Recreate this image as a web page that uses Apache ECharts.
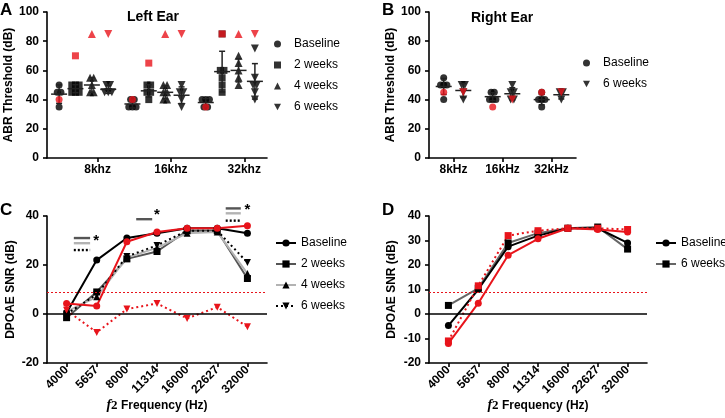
<!DOCTYPE html>
<html>
<head>
<meta charset="utf-8">
<script src="https://cdn.jsdelivr.net/npm/echarts@6/dist/echarts.min.js"></script>
<style>
  html, body { margin: 0; padding: 0; background: #fff; }
  #chart { width: 725px; height: 418px; }
</style>
</head>
<body>
<div id="chart"></div>
<script>
// ABR thresholds, one list per frequency; the red animal is kept apart
var abrFreqs = ['8khz', '16khz', '32khz'];
var leftBaseline = [[50, 45, 45, 35], [40, 40, 35, 35, 35], [40, 40, 40, 35, 35]];
var leftWeek2 = [[50, 50, 50, 45, 45, 45], [50, 50, 45, 45, 40], [85, 60, 60, 55, 50, 45]];
var leftWeek4 = [[55, 55, 50, 45, 45], [50, 50, 45, 45, 40, 40], [70, 65, 60, 55, 50]];
var leftWeek6 = [[50, 50, 45, 45, 45], [50, 45, 45, 40, 35], [75, 55, 50, 50, 45, 40]];
var leftRedBaseline = [40, 40, 35];
var leftRedWeek2 = [70, 65, 85];
var leftRedWeek4 = [85, 85, 85];
var leftRedWeek6 = [85, 85, 85];

var rightFreqs = ['8kHz', '16kHz', '32kHz'];
var rightBaseline = [[55, 50, 50, 50, 40], [45, 45, 40, 40, 40], [45, 40, 40, 40, 35]];
var rightWeek6 = [[50, 50, 45, 40], [50, 45, 45, 40, 40], [45, 45, 40]];
var rightRedBaseline = [45, 35, 45];
var rightRedWeek6 = [45, 40, 45];

// DPOAE SNR per f2 frequency
var f2Labels = ['4000', '5657', '8000', '11314', '16000', '22627', '32000'];
var leftSnrBaseline = [0.5, 22, 31, 33, 35, 35, 33];
var leftSnrWeek2 = [-1.5, 9, 22.5, 25.5, 34, 34, 14.5];
var leftSnrWeek4 = [1, 7, 23, 27, 33, 33.5, 16.5];
var leftSnrWeek6 = [0, 8, 23.5, 28, 34, 34, 21];
var leftSnrRed = [4.3, 3.3, 29.5, 33.5, 35, 35, 36];
var leftSnrRedWeek6 = [1.5, -7.5, 2, 4.3, -1.8, 2.8, -5.2];
var rightSnrBaseline = [-4.7, 10, 27.5, 32, 35, 35, 29];
var rightSnrWeek6 = [3.5, 10.5, 29, 33, 35, 35.5, 26.5];
var rightSnrRed = [-12, 4.4, 24, 30.7, 35, 34.5, 33.5];
var rightSnrRedWeek6 = [-11, 11.5, 32, 34, 35, 35, 34.5];
var noiseFloor = 9;

// significance marks in C: [from, to, y, style] (0 = 2 wk, 1 = 4 wk, 2 = 6 wk)
var sigBars = [
  [0.24, 0.78, 31, 0], [0.24, 0.78, 28.9, 1], [0.24, 0.78, 26.1, 2],
  [2.31, 2.84, 38.7, 0],
  [5.28, 5.78, 43.1, 0], [5.28, 5.78, 41.1, 1], [5.28, 5.78, 38.1, 2]
];
var sigStars = [[0.98, 28.4], [3.0, 38.8], [6.0, 40.8]];

var FONT = "'Liberation Sans', Arial, sans-serif";
var RED = '#e8141b';
var DOWN = 'path://M0,0L10,0L5,9Z';

function axisStyle(extra) {
  var base = {
    axisLine: { onZero: false, lineStyle: { color: '#000', width: 1.6 } },
    axisTick: { length: 4, lineStyle: { color: '#000', width: 1.6 } },
    axisLabel: { color: '#000', fontWeight: 'bold', fontSize: 12, fontFamily: FONT },
    splitLine: { show: false },
    nameTextStyle: { color: '#000', fontWeight: 'bold', fontSize: 12, fontFamily: FONT }
  };
  for (var k in extra) {
    if (base[k] && typeof extra[k] === 'object' && !Array.isArray(extra[k])) {
      base[k] = Object.assign({}, base[k], extra[k]);
    } else {
      base[k] = extra[k];
    }
  }
  return base;
}

// spread equal values sideways like a beeswarm
function swarm(values, center, step) {
  var counts = {}, seen = {};
  values.forEach(function (v) { counts[v] = (counts[v] || 0) + 1; });
  return values.map(function (v) {
    var k = seen[v] || 0;
    seen[v] = k + 1;
    return [center + (k - (counts[v] - 1) / 2) * step, v];
  });
}

function meanSd(values) {
  var m = values.reduce(function (a, b) { return a + b; }, 0) / values.length;
  var ss = values.reduce(function (a, b) { return a + (b - m) * (b - m); }, 0);
  return [m, Math.sqrt(ss / (values.length - 1))];
}

function meanSdItem(params, api) {
  var x = api.value(0), m = api.value(1), sd = api.value(2);
  var c = api.coord([x, m]), hi = api.coord([x, m + sd]), lo = api.coord([x, m - sd]);
  var st = { stroke: '#222', lineWidth: 1.5 };
  return {
    type: 'group',
    children: [
      { type: 'line', shape: { x1: c[0] - 8, y1: c[1], x2: c[0] + 8, y2: c[1] }, style: st },
      { type: 'line', shape: { x1: c[0], y1: hi[1], x2: c[0], y2: lo[1] }, style: st },
      { type: 'line', shape: { x1: c[0] - 3, y1: hi[1], x2: c[0] + 3, y2: hi[1] }, style: st },
      { type: 'line', shape: { x1: c[0] - 3, y1: lo[1], x2: c[0] + 3, y2: lo[1] }, style: st }
    ]
  };
}

var series = [];

function abrPanel(prefix, axisIdx, groups, reds, names, symbols, sizes, offsets, step) {
  var stats = [];
  groups.forEach(function (g, t) {
    var pts = [], redPts = [];
    g.forEach(function (vals, f) {
      var cx = f + 0.5 + offsets[t];
      pts = pts.concat(swarm(vals, cx, step));
      redPts.push([cx, reds[t][f]]);
      var ms = meanSd(vals);
      stats.push([cx, ms[0], ms[1]]);
    });
    series.push({
      name: prefix + '|' + names[t], type: 'scatter', xAxisIndex: axisIdx, yAxisIndex: axisIdx,
      symbol: symbols[t], symbolSize: sizes[t], itemStyle: { color: '#000' }, data: pts, z: 2
    });
    series.push({
      name: prefix + '|red' + t, type: 'scatter', xAxisIndex: axisIdx, yAxisIndex: axisIdx,
      symbol: symbols[t], symbolSize: sizes[t], itemStyle: { color: RED }, data: redPts, z: 4
    });
  });
  series.push({
    type: 'custom', xAxisIndex: axisIdx, yAxisIndex: axisIdx, renderItem: meanSdItem,
    encode: { x: 0, y: 1 }, data: stats, z: 3, silent: true
  });
}

abrPanel('A', 0, [leftBaseline, leftWeek2, leftWeek4, leftWeek6],
  [leftRedBaseline, leftRedWeek2, leftRedWeek4, leftRedWeek6],
  ['Baseline', '2 weeks', '4 weeks', '6 weeks'],
  ['circle', 'rect', 'triangle', DOWN], [7, 7, 8, 8],
  [-0.335, -0.112, 0.112, 0.335], 0.05);

abrPanel('B', 1, [rightBaseline, rightWeek6], [rightRedBaseline, rightRedWeek6],
  ['Baseline', '6 weeks'], ['circle', DOWN], [7, 8], [-0.2, 0.2], 0.065);

function idx(arr) { return arr.map(function (v, i) { return [i, v]; }); }

function snrLine(name, axisIdx, values, lineColor, dotColor, symbol, size, dotted, extra) {
  var s = {
    name: name, type: 'line', xAxisIndex: axisIdx, yAxisIndex: axisIdx,
    data: idx(values), symbol: symbol, symbolSize: size,
    lineStyle: { color: lineColor, width: 2, type: dotted ? [2, 3] : 'solid' },
    itemStyle: { color: dotColor }
  };
  return Object.assign(s, extra || {});
}

var refLines = {
  silent: true, symbol: ['none', 'none'], label: { show: false }, animation: false,
  data: [
    { yAxis: 0, lineStyle: { color: '#000', width: 1.5, type: 'solid' } },
    { yAxis: noiseFloor, lineStyle: { color: RED, width: 1, type: [2, 2] } }
  ]
};

series.push(snrLine('C|2 weeks', 2, leftSnrWeek2, '#555', '#000', 'rect', 7, false, { markLine: refLines }));
series.push(snrLine('C|4 weeks', 2, leftSnrWeek4, '#b3b3b3', '#000', 'triangle', 7, false));
series.push(snrLine('C|6 weeks', 2, leftSnrWeek6, '#000', '#000', DOWN, 7, true));
series.push(snrLine('C|Baseline', 2, leftSnrBaseline, '#000', '#000', 'circle', 7, false));
series.push(snrLine('C|red6', 2, leftSnrRedWeek6, RED, RED, DOWN, 7, true));
series.push(snrLine('C|red', 2, leftSnrRed, RED, RED, 'circle', 7, false));

series.push(snrLine('D|6 weeks', 3, rightSnrWeek6, '#666', '#000', 'rect', 7, false, { markLine: refLines }));
series.push(snrLine('D|Baseline', 3, rightSnrBaseline, '#000', '#000', 'circle', 7, false));
series.push(snrLine('D|red6', 3, rightSnrRedWeek6, RED, RED, 'rect', 7, true));
series.push(snrLine('D|red', 3, rightSnrRed, RED, RED, 'circle', 7, false));

var sigStyles = [
  { color: '#555', dash: null },
  { color: '#b3b3b3', dash: null },
  { color: '#000', dash: [2, 2] }
];
series.push({
  type: 'custom', xAxisIndex: 2, yAxisIndex: 2, silent: true, clip: false, z: 5,
  encode: { x: 0, y: 2 }, data: sigBars,
  renderItem: function (params, api) {
    var a = api.coord([api.value(0), api.value(2)]);
    var b = api.coord([api.value(1), api.value(2)]);
    var s = sigStyles[api.value(3)];
    return {
      type: 'line', shape: { x1: a[0], y1: a[1], x2: b[0], y2: b[1] },
      style: { stroke: s.color, lineWidth: 2.4, lineDash: s.dash }
    };
  }
});
series.push({
  type: 'custom', xAxisIndex: 2, yAxisIndex: 2, silent: true, clip: false, z: 5,
  encode: { x: 0, y: 1 }, data: sigStars,
  renderItem: function (params, api) {
    var p = api.coord([api.value(0), api.value(1)]);
    return {
      type: 'text', x: p[0], y: p[1] - 4,
      style: { text: '*', fill: '#000', font: 'bold 15px ' + FONT, align: 'center', verticalAlign: 'middle' }
    };
  }
});

function legendFor(names, left, top, itemW, itemH, padLeft) {
  return {
    data: names, orient: 'vertical', left: left, top: top, itemWidth: itemW, itemHeight: itemH,
    itemGap: 7, selectedMode: false, padding: 0,
    formatter: function (n) { return n.split('|')[1]; },
    textStyle: { color: '#000', fontSize: 12, fontFamily: FONT, lineHeight: 14, padding: [0, 0, 0, padLeft] }
  };
}

var freqAxisX = function (grid) {
  return axisStyle({
    gridIndex: grid, type: 'value', min: -0.65, max: 6.65,
    axisTick: { customValues: [0, 1, 2, 3, 4, 5, 6] },
    axisLabel: { customValues: [0, 1, 2, 3, 4, 5, 6], rotate: 45, margin: 5,
      formatter: function (v) { return f2Labels[v]; } },
    name: '{f|f}{n|2} {b|Frequency (Hz)}', nameLocation: 'middle', nameGap: 30,
    nameTextStyle: {
      rich: {
        f: { fontFamily: "'Liberation Serif', serif", fontStyle: 'italic', fontSize: 14, color: '#000' },
        n: { fontFamily: "'Liberation Serif', serif", fontSize: 13, color: '#000' },
        b: { fontFamily: FONT, fontWeight: 'bold', fontSize: 12, color: '#000' }
      }
    }
  });
};

// panel A labels sit a little right of each group's middle
var leftLabelPos = [0.69, 1.69, 2.69];

var option = {
  animation: false,
  backgroundColor: '#fff',
  grid: [
    { left: 47, top: 12, width: 220, height: 146 },
    { left: 429, top: 12, width: 147, height: 146 },
    { left: 47, top: 216, width: 220, height: 147 },
    { left: 429, top: 216, width: 218, height: 147 }
  ],
  xAxis: [
    axisStyle({ gridIndex: 0, type: 'value', min: 0, max: 3,
      axisTick: { customValues: leftLabelPos },
      axisLabel: { customValues: leftLabelPos, margin: 6,
        formatter: function (v) { return abrFreqs[Math.floor(v)]; } } }),
    axisStyle({ gridIndex: 1, type: 'value', min: 0, max: 3,
      axisTick: { customValues: [0.5, 1.5, 2.5] },
      axisLabel: { customValues: [0.5, 1.5, 2.5], margin: 6,
        formatter: function (v) { return rightFreqs[Math.floor(v)]; } } }),
    freqAxisX(2),
    freqAxisX(3)
  ],
  yAxis: [
    axisStyle({ gridIndex: 0, type: 'value', min: 0, max: 100, interval: 20,
      name: 'ABR Threshold (dB)', nameLocation: 'middle', nameGap: 31 }),
    axisStyle({ gridIndex: 1, type: 'value', min: 0, max: 100, interval: 20,
      name: 'ABR Threshold (dB)', nameLocation: 'middle', nameGap: 31 }),
    axisStyle({ gridIndex: 2, type: 'value', min: -20, max: 40, interval: 20,
      name: 'DPOAE SNR (dB)', nameLocation: 'middle', nameGap: 30 }),
    axisStyle({ gridIndex: 3, type: 'value', min: -20, max: 40, interval: 10,
      name: 'DPOAE SNR (dB)', nameLocation: 'middle', nameGap: 31 })
  ],
  legend: [
    legendFor(['A|Baseline', 'A|2 weeks', 'A|4 weeks', 'A|6 weeks'], 274, 37, 7, 7, 8),
    legendFor(['B|Baseline', 'B|6 weeks'], 583, 56, 7, 7, 8),
    legendFor(['C|Baseline', 'C|2 weeks', 'C|4 weeks', 'C|6 weeks'], 275, 236, 20, 9, 0),
    legendFor(['D|Baseline', 'D|6 weeks'], 655, 236, 20, 9, 0)
  ],
  graphic: [
    { type: 'text', left: 0, top: 2, style: { text: 'A', font: 'bold 17px ' + FONT, fill: '#000' } },
    { type: 'text', left: 382, top: 2, style: { text: 'B', font: 'bold 17px ' + FONT, fill: '#000' } },
    { type: 'text', left: 0, top: 202, style: { text: 'C', font: 'bold 17px ' + FONT, fill: '#000' } },
    { type: 'text', left: 382, top: 202, style: { text: 'D', font: 'bold 17px ' + FONT, fill: '#000' } },
    { type: 'text', x: 153, y: 17, style: { text: 'Left Ear', font: 'bold 14px ' + FONT, fill: '#000', align: 'center', verticalAlign: 'middle' } },
    { type: 'text', x: 502, y: 18, style: { text: 'Right Ear', font: 'bold 14px ' + FONT, fill: '#000', align: 'center', verticalAlign: 'middle' } }
  ],
  series: series
};

var chart = echarts.init(document.getElementById('chart'));
chart.setOption(option);
</script>
</body>
</html>
